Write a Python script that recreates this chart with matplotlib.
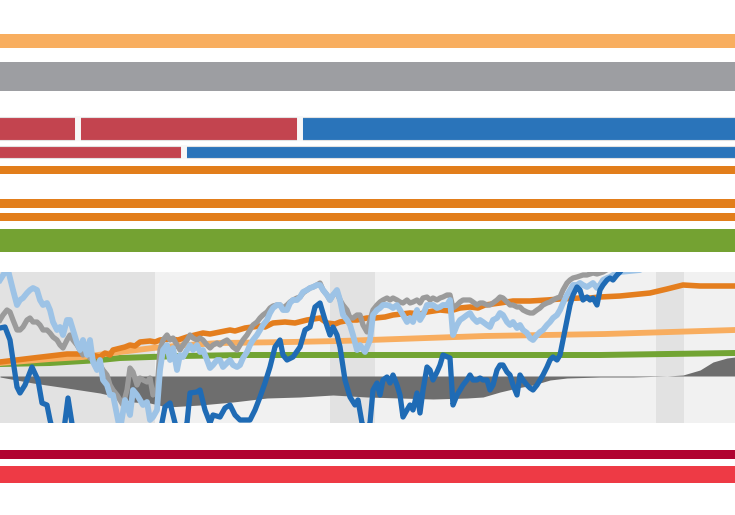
import numpy as np
import matplotlib
matplotlib.use("Agg")
import matplotlib.pyplot as plt

# ---- top / bottom bands (share of full width, %) ----
band_row1 = [10.6, 30.2, 59.2]      # red, red, blue
band_row1_colors = ['#C3444F', '#C3444F', '#2A74BA']
band_row2 = [25.0, 75.0]            # red, blue
band_row2_colors = ['#C3444F', '#2A74BA']
full_bands = [100, 100, 100, 100, 100, 100, 100, 100]
full_band_colors = ['#F8AE5F', '#9D9EA2', '#E27E1B', '#E27E1B', '#E27E1B',
                    '#74A232', '#B10230', '#EE3A45']

# ---- line chart (x = period index, y = index level) ----
recession_start = [0, 330, 656]
recession_end = [155, 375, 684]

dark_x = [0, 5, 10, 17, 20, 25, 32, 38, 42, 47, 50, 55, 62, 68, 73, 80, 90, 110, 130, 150, 160,
          165, 170, 175, 180, 187, 190, 197, 200, 205, 210, 213, 220, 225, 230, 235, 240, 245, 250,
          255, 260, 265, 270, 275, 280, 283, 287, 293, 300, 305, 310, 315, 320, 325, 330, 333, 337,
          340, 345, 350, 355, 358, 362, 366, 370, 373, 377, 380, 383, 387, 390, 393, 397, 400, 403,
          407, 410, 413, 417, 420, 423, 427, 430, 433, 437, 440, 443, 450, 453, 457, 460, 463, 467,
          470, 473, 477, 480, 483, 487, 490, 493, 497, 500, 503, 507, 510, 513, 517, 520, 523, 527,
          530, 533, 537, 540, 543, 547, 550, 553, 557, 560, 563, 567, 570, 573, 577, 580, 583, 587,
          590, 593, 597, 600, 603, 607, 610, 613, 617, 620, 625, 630]
dark_y = [95, 96, 83, 36, 30, 38, 56, 43, 20, 18, 3, -17, -22, 25, -7, -37, -40, -45, -40, -35, -10,
          16, 20, 0, -12, 0, 30, 31, 33, 13, 0, 8, 6, 15, 18, 8, 3, 3, 3,
          13, 26, 40, 56, 76, 83, 68, 63, 66, 76, 93, 96, 116, 120, 103, 88, 96, 88,
          76, 43, 26, 18, 23, 0, -7, 0, 33, 40, 28, 43, 46, 40, 48, 38, 28, 6,
          13, 18, 13, 30, 10, 33, 56, 53, 43, 51, 58, 68, 65, 18, 28, 33, 38, 43,
          48, 43, 43, 45, 43, 43, 33, 38, 53, 58, 58, 51, 48, 38, 28, 48, 43, 38,
          35, 33, 38, 43, 48, 56, 63, 66, 63, 68, 83, 103, 118, 128, 136, 133, 123, 126,
          123, 125, 118, 133, 138, 143, 145, 143, 148, 151, 158, 163]

light_x = [0, 5, 8, 13, 17, 20, 23, 27, 30, 33, 37, 40, 43, 47, 50, 53, 57, 60, 63, 67, 70, 73, 77,
           80, 83, 87, 90, 93, 97, 100, 103, 107, 110, 113, 117, 120, 125, 130, 133, 137, 140, 143,
           147, 150, 153, 157, 160, 163, 167, 170, 173, 177, 180, 183, 187, 190, 193, 197, 200, 203,
           207, 210, 213, 217, 220, 223, 227, 230, 233, 237, 240, 243, 247, 250, 253, 257, 260, 263,
           267, 270, 273, 277, 280, 283, 287, 290, 293, 297, 300, 303, 307, 310, 313, 317, 320, 323,
           327, 330, 333, 337, 340, 343, 347, 350, 353, 357, 360, 365, 370, 373, 377, 380, 383, 387,
           390, 393, 397, 400, 403, 407, 410, 413, 417, 420, 423, 427, 430, 433, 437, 440, 443, 447,
           450, 453, 457, 460, 463, 467, 470, 473, 477, 480, 483, 487, 490, 493, 497, 500, 503, 507,
           510, 513, 517, 520, 523, 527, 530, 533, 537, 540, 543, 547, 550, 553, 557, 560, 563, 567,
           570, 573, 577, 580, 583, 587, 590, 593, 597, 600, 603, 607, 610, 613, 617, 620, 630, 640,
           650]
light_y = [143, 151, 153, 133, 118, 123, 125, 130, 133, 135, 133, 123, 118, 120, 113, 101, 93, 96, 88,
           103, 103, 93, 80, 73, 83, 68, 83, 61, 53, 63, 43, 38, 28, 28, 8, -7, 23, 8, 33, 28, 23,
           18, 21, 3, 6, 13, 53, 73, 78, 63, 75, 53, 68, 66, 73, 78, 73, 78, 71, 73, 63, 55, 58, 63,
           63, 56, 60, 63, 58, 56, 58, 65, 71, 78, 83, 88, 93, 98, 103, 110, 115, 118, 118, 113, 113,
           120, 123, 123, 126, 131, 133, 135, 136, 138, 138, 133, 128, 123, 128, 133, 123, 108, 103,
           98, 88, 73, 78, 71, 83, 108, 113, 115, 118, 118, 117, 115, 118, 113, 108, 101, 105, 101,
           113, 103, 108, 118, 118, 118, 115, 116, 118, 118, 123, 88, 98, 103, 105, 108, 110, 105,
           101, 103, 101, 98, 96, 103, 105, 110, 108, 101, 98, 101, 95, 98, 93, 90, 85, 83, 88, 91,
           93, 98, 101, 105, 108, 113, 120, 128, 133, 138, 138, 140, 138, 136, 138, 140, 135, 138,
           143, 145, 146, 148, 150, 151, 152, 153, 161]

gray_x = [0, 3, 7, 10, 13, 17, 20, 23, 27, 30, 33, 37, 40, 43, 47, 50, 53, 57, 60, 63, 67, 70, 73,
          77, 80, 83, 87, 90, 93, 97, 100, 103, 107, 110, 113, 117, 120, 123, 127, 130, 133, 137,
          140, 143, 147, 150, 153, 157, 160, 163, 167, 170, 173, 177, 180, 183, 187, 190, 193, 197,
          200, 203, 207, 210, 213, 217, 220, 223, 227, 230, 233, 237, 240, 243, 247, 250, 253, 257,
          260, 263, 267, 270, 273, 277, 280, 283, 287, 290, 293, 297, 300, 303, 307, 310, 313, 317,
          320, 323, 327, 330, 333, 337, 340, 343, 347, 350, 353, 357, 360, 363, 367, 370, 373, 377,
          380, 383, 387, 390, 393, 397, 400, 403, 407, 410, 413, 417, 420, 423, 427, 430, 433, 437,
          440, 443, 447, 450, 453, 457, 460, 463, 467, 470, 473, 477, 480, 483, 487, 490, 493, 497,
          500, 503, 507, 510, 513, 517, 520, 523, 527, 530, 533, 537, 540, 543, 547, 550, 553, 557,
          560, 563, 567, 570, 573, 577, 580, 583, 587, 590, 593, 597, 600, 603, 610, 620]
gray_y = [103, 108, 113, 111, 103, 93, 93, 96, 103, 105, 101, 101, 98, 93, 93, 90, 86, 83, 78, 75,
          83, 88, 83, 78, 73, 68, 71, 65, 63, 58, 58, 53, 48, 38, 33, 28, 23, 18, 33, 55, 51, 38,
          45, 43, 41, 45, 28, 33, 73, 83, 88, 83, 85, 78, 73, 78, 83, 88, 85, 83, 85, 83, 78, 75,
          78, 80, 78, 81, 83, 80, 76, 73, 78, 83, 88, 93, 98, 101, 105, 108, 111, 115, 117, 118,
          118, 115, 118, 121, 123, 125, 126, 130, 133, 135, 136, 138, 140, 133, 128, 123, 128, 131,
          123, 118, 113, 105, 105, 108, 108, 98, 91, 103, 113, 118, 121, 123, 125, 123, 125, 123,
          121, 120, 123, 120, 121, 123, 120, 125, 126, 123, 125, 123, 125, 126, 128, 128, 115, 118,
          121, 123, 123, 123, 121, 118, 120, 120, 118, 118, 120, 123, 126, 125, 121, 118, 118, 116,
          116, 113, 111, 110, 110, 113, 115, 118, 120, 121, 123, 125, 126, 133, 140, 143, 145, 146,
          147, 148, 148, 149, 150, 149, 150, 151, 155, 158]

orange_x = [0, 33, 67, 87, 100, 105, 110, 113, 125, 130, 135, 140, 150, 155, 160, 170, 178, 187,
            195, 203, 210, 220, 230, 235, 245, 260, 265, 273, 285, 295, 307, 320, 327, 335, 340,
            350, 357, 367, 375, 385, 393, 410, 420, 427, 440, 450, 460, 470, 478, 485, 500, 513,
            530, 547, 560, 580, 590, 600, 620, 640, 650, 667, 683, 700, 720, 735]
orange_y = [61, 65, 69, 69, 66, 70, 68, 73, 76, 78, 77, 81, 82, 81, 83, 84, 83, 86,
            88, 90, 89, 91, 93, 92, 95, 97, 96, 100, 101, 100, 103, 105, 100, 99, 101,
            103, 103, 105, 105, 106, 108, 110, 109, 111, 113, 112, 115, 116, 115, 118, 120, 122,
            122, 123, 124, 125, 125, 126, 127, 129, 130, 134, 138, 137, 137, 137]

lorange_x = [0, 50, 83, 120, 153, 187, 220, 290, 340, 427, 485, 605, 735]
lorange_y = [60, 64, 66, 71, 75, 78, 80, 81, 82, 85, 87, 89, 93]

green_x = [0, 50, 100, 120, 180, 245, 400, 600, 735]
green_y = [59, 60, 63, 65, 67, 68, 68, 68, 70]

gap_base = 47
gap_x = [0, 33, 67, 100, 117, 133, 150, 167, 200, 233, 267, 300, 333, 367, 433, 467, 483, 500,
         517, 533, 550, 567, 600, 633, 667, 683, 700, 713, 727, 735]
gap_y = [46, 40, 35, 30, 26, 21, 20, 16, 18, 21, 25, 26, 28, 26, 24, 25, 26, 31,
         35, 38, 43, 45, 46, 46, 47, 48, 53, 61, 65, 66]

fig = plt.figure(figsize=(7.35, 5.15), dpi=100)

# bands drawn in a full-figure axes (x in % of width, y in pixel rows)
axb = fig.add_axes([0, 0, 1, 1])
axb.set_xlim(0, 100)
axb.set_ylim(515, 0)
axb.axis('off')

full_pos = [41, 76.5, 170, 203.5, 217, 240.5, 454.5, 474.5]
full_h = [14, 29, 8, 9, 8, 23, 9, 17]
axb.barh(full_pos, full_bands, height=full_h, color=full_band_colors)

for vals, cols, yc, h in [(band_row1, band_row1_colors, 128.5, 23),
                          (band_row2, band_row2_colors, 152, 12)]:
    lefts = np.cumsum([0] + vals[:-1]) - 0.5
    widths = list(vals)
    widths[0] += 0.5
    lefts[1:] += 0.5
    widths[-1] += 0.5
    axb.barh([yc] * len(vals), widths, left=lefts, height=h, color=cols,
             edgecolor='#E2E2E2', linewidth=0.8)
    bounds = np.cumsum(vals)[:-1]
    axb.vlines(bounds, yc - h / 2 - 1, yc + h / 2 + 1, color='#F7F7F7', lw=4.3)

# main line chart
ax = fig.add_axes([0, 92 / 515, 1, 151 / 515])
ax.set_facecolor('#F1F1F1')
ax.set_xlim(0, 735)
ax.set_ylim(0, 151)
for s, e in zip(recession_start, recession_end):
    ax.axvspan(s, e, color='#E2E2E2', lw=0, zorder=0)

ax.fill_between(gap_x, gap_base, gap_y, color='#6E6E6E', lw=0, zorder=1)
lw = 3.8
ax.plot(green_x, green_y, color='#72A433', lw=4.3, zorder=2)
ax.plot(lorange_x, lorange_y, color='#F8AD5F', lw=4.2, zorder=3)
ax.plot(orange_x, orange_y, color='#E47E1E', lw=4.0, zorder=4)
ax.plot(gray_x, gray_y, color='#9B9B9B', lw=lw, zorder=5)
ax.plot(light_x, light_y, color='#9DC3E6', lw=4.2, zorder=6)
ax.plot(dark_x, dark_y, color='#1F6BB5', lw=lw, zorder=7)

for sp in ax.spines.values():
    sp.set_visible(False)
ax.set_xticks([])
ax.set_yticks([])

fig.savefig('out.png', dpi=100)
